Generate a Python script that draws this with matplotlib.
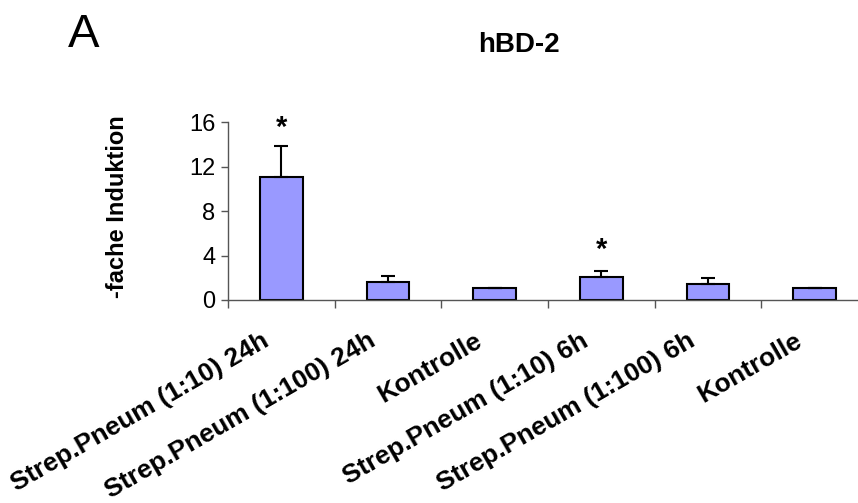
import matplotlib
matplotlib.use('Agg')
import matplotlib.pyplot as plt
import matplotlib.transforms as mtransforms
import numpy as np

plt.rcParams['font.family'] = ['Liberation Sans', 'DejaVu Sans']

categories = ['Strep.Pneum (1:10) 24h', 'Strep.Pneum (1:100) 24h', 'Kontrolle',
              'Strep.Pneum (1:10) 6h', 'Strep.Pneum (1:100) 6h', 'Kontrolle']
values = [11.1, 1.65, 1.05, 2.1, 1.4, 1.05]
errors = [2.8, 0.55, 0.05, 0.55, 0.55, 0.05]
significant = [True, False, False, True, False, False]
star_heights = [14.8, None, None, 3.8, None, None]

DPI = 100
fig = plt.figure(figsize=(8.58, 5.03), dpi=DPI)
ax = fig.add_axes([228 / 858, 1 - 300 / 503, 640 / 858, 177.7 / 503])

x = np.arange(len(categories))
ax.bar(x, values, width=0.4, color='#9999FF', edgecolor='black', linewidth=1.5, zorder=2)
ax.errorbar(x, values, yerr=[np.zeros(len(errors)), errors], fmt='none',
            ecolor='black', elinewidth=1.5, capsize=5, capthick=1.5, zorder=3)

for i, sig in enumerate(significant):
    if sig:
        ax.text(x[i], star_heights[i], '*', ha='center', va='baseline',
                fontsize=21, fontweight='bold', clip_on=False)

ax.set_xlim(-0.5, len(categories) - 0.5)
ax.set_ylim(0, 16)
ax.set_yticks([0, 4, 8, 12, 16])
ax.tick_params(axis='y', labelsize=17, length=5, width=1, color='#555555', pad=4)
ax.set_xticks(np.arange(-0.5, len(categories), 1.0))
ax.set_xticklabels([])
ax.tick_params(axis='x', length=6, width=1, color='#555555')

for side in ['top', 'right']:
    ax.spines[side].set_visible(False)
for side in ['left', 'bottom']:
    ax.spines[side].set_color('#555555')
    ax.spines[side].set_linewidth(1)

# rotated category labels, baseline ending just left of bar centre
offset = mtransforms.ScaledTranslation(-11 / DPI, -45 / DPI, fig.dpi_scale_trans)
trans = ax.get_xaxis_transform() + offset
for i, lab in enumerate(categories):
    ax.text(x[i], 0, lab, transform=trans, rotation=30, rotation_mode='anchor',
            ha='right', va='baseline', fontsize=19, fontweight='bold')

fig.text(118 / 858, 1 - 207 / 503, '-fache Induktion', rotation=90, ha='center', va='center',
         fontsize=17, fontweight='bold')
fig.text(519 / 858, 1 - 45 / 503, 'hBD-2', ha='center', va='center', fontsize=20, fontweight='bold')
fig.text(68 / 858, 1 - 47 / 503, 'A', ha='left', va='baseline', fontsize=34)

plt.savefig('out.png', dpi=DPI)
